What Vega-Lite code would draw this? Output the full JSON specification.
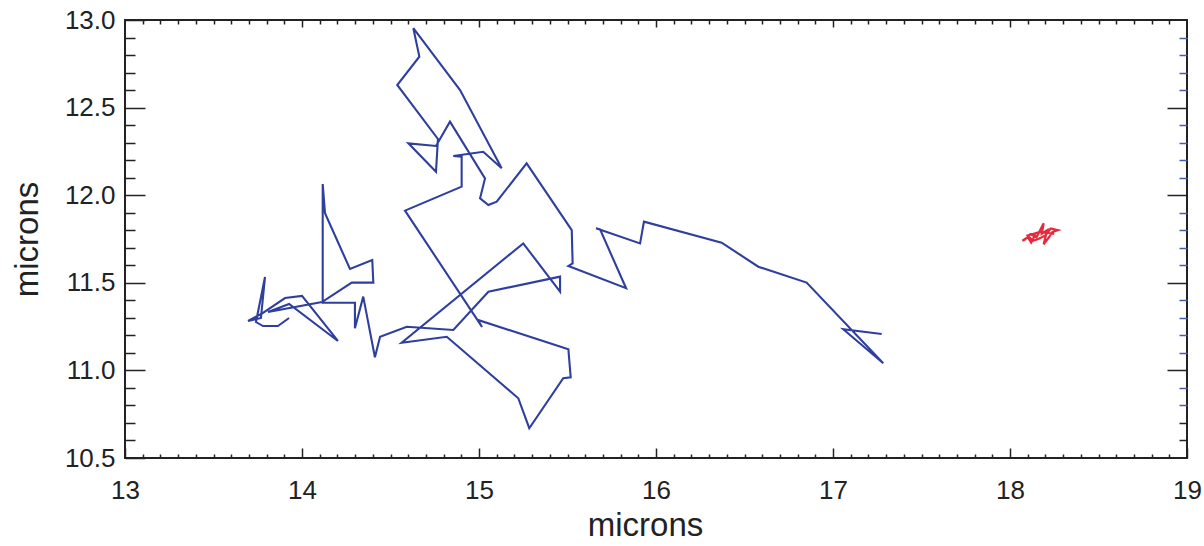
{
  "$schema": "https://vega.github.io/schema/vega-lite/v6.json",
  "width": 1062,
  "height": 438,
  "autosize": "none",
  "padding": {"left": 125, "top": 20, "right": 17, "bottom": 88},
  "background": "white",
  "config": {
    "view": {"stroke": "#222222", "strokeWidth": 2},
    "axis": {
      "labelFont": "Liberation Sans",
      "titleFont": "Liberation Sans",
      "labelColor": "#222222",
      "titleColor": "#222222",
      "tickColor": "#222222",
      "tickWidth": 1.5,
      "grid": false,
      "domain": false,
      "titleFontWeight": "normal",
      "labelFlush": false,
      "labelOverlap": false
    }
  },
  "datasets": {
    "track": [
      {"s": 1, "x": 13.927, "y": 11.299},
      {"s": 2, "x": 13.864, "y": 11.253},
      {"s": 3, "x": 13.780, "y": 11.253},
      {"s": 4, "x": 13.740, "y": 11.276},
      {"s": 5, "x": 13.791, "y": 11.533},
      {"s": 6, "x": 13.768, "y": 11.299},
      {"s": 7, "x": 13.695, "y": 11.282},
      {"s": 8, "x": 13.780, "y": 11.328},
      {"s": 9, "x": 13.904, "y": 11.413},
      {"s": 10, "x": 14.000, "y": 11.425},
      {"s": 11, "x": 14.203, "y": 11.168},
      {"s": 12, "x": 13.927, "y": 11.379},
      {"s": 13, "x": 13.808, "y": 11.333},
      {"s": 14, "x": 14.113, "y": 11.390},
      {"s": 15, "x": 14.281, "y": 11.501},
      {"s": 16, "x": 14.403, "y": 11.501},
      {"s": 17, "x": 14.397, "y": 11.630},
      {"s": 18, "x": 14.271, "y": 11.579},
      {"s": 19, "x": 14.130, "y": 11.897},
      {"s": 20, "x": 14.117, "y": 12.064},
      {"s": 21, "x": 14.117, "y": 11.386},
      {"s": 22, "x": 14.299, "y": 11.386},
      {"s": 23, "x": 14.299, "y": 11.240},
      {"s": 24, "x": 14.346, "y": 11.421},
      {"s": 25, "x": 14.412, "y": 11.075},
      {"s": 26, "x": 14.441, "y": 11.192},
      {"s": 27, "x": 14.592, "y": 11.249},
      {"s": 28, "x": 14.855, "y": 11.231},
      {"s": 29, "x": 15.053, "y": 11.449},
      {"s": 30, "x": 15.458, "y": 11.535},
      {"s": 31, "x": 15.458, "y": 11.449},
      {"s": 32, "x": 15.250, "y": 11.725},
      {"s": 33, "x": 14.563, "y": 11.158},
      {"s": 34, "x": 14.818, "y": 11.192},
      {"s": 35, "x": 15.222, "y": 10.841},
      {"s": 36, "x": 15.284, "y": 10.670},
      {"s": 37, "x": 15.476, "y": 10.955},
      {"s": 38, "x": 15.518, "y": 10.961},
      {"s": 39, "x": 15.505, "y": 11.120},
      {"s": 40, "x": 14.994, "y": 11.288},
      {"s": 41, "x": 15.017, "y": 11.248},
      {"s": 42, "x": 14.582, "y": 11.912},
      {"s": 43, "x": 14.902, "y": 12.049},
      {"s": 44, "x": 14.902, "y": 12.220},
      {"s": 45, "x": 14.855, "y": 12.224},
      {"s": 46, "x": 15.024, "y": 12.248},
      {"s": 47, "x": 15.128, "y": 12.154},
      {"s": 48, "x": 14.893, "y": 12.600},
      {"s": 49, "x": 14.629, "y": 12.953},
      {"s": 50, "x": 14.663, "y": 12.791},
      {"s": 51, "x": 14.538, "y": 12.629},
      {"s": 52, "x": 14.768, "y": 12.321},
      {"s": 53, "x": 14.757, "y": 12.134},
      {"s": 54, "x": 14.601, "y": 12.296},
      {"s": 55, "x": 14.757, "y": 12.281},
      {"s": 56, "x": 14.836, "y": 12.420},
      {"s": 57, "x": 15.034, "y": 12.096},
      {"s": 58, "x": 15.006, "y": 11.982},
      {"s": 59, "x": 15.053, "y": 11.944},
      {"s": 60, "x": 15.100, "y": 11.963},
      {"s": 61, "x": 15.269, "y": 12.182},
      {"s": 62, "x": 15.524, "y": 11.801},
      {"s": 63, "x": 15.529, "y": 11.611},
      {"s": 64, "x": 15.505, "y": 11.596},
      {"s": 65, "x": 15.831, "y": 11.469},
      {"s": 66, "x": 15.684, "y": 11.805},
      {"s": 67, "x": 15.661, "y": 11.811},
      {"s": 68, "x": 15.910, "y": 11.725},
      {"s": 69, "x": 15.932, "y": 11.849},
      {"s": 70, "x": 16.371, "y": 11.729},
      {"s": 71, "x": 16.578, "y": 11.592},
      {"s": 72, "x": 16.851, "y": 11.501},
      {"s": 73, "x": 17.284, "y": 11.041},
      {"s": 74, "x": 17.058, "y": 11.235},
      {"s": 75, "x": 17.275, "y": 11.208}
    ],
    "red": [
      {"s": 1, "x": 18.09, "y": 11.75},
      {"s": 2, "x": 18.07, "y": 11.74},
      {"s": 3, "x": 18.10, "y": 11.76},
      {"s": 4, "x": 18.12, "y": 11.73},
      {"s": 5, "x": 18.14, "y": 11.77},
      {"s": 6, "x": 18.11, "y": 11.78},
      {"s": 7, "x": 18.15, "y": 11.76},
      {"s": 8, "x": 18.17, "y": 11.80},
      {"s": 9, "x": 18.19, "y": 11.84},
      {"s": 10, "x": 18.18, "y": 11.78},
      {"s": 11, "x": 18.21, "y": 11.80},
      {"s": 12, "x": 18.19, "y": 11.72},
      {"s": 13, "x": 18.22, "y": 11.76},
      {"s": 14, "x": 18.24, "y": 11.79},
      {"s": 15, "x": 18.27, "y": 11.80},
      {"s": 16, "x": 18.23, "y": 11.81},
      {"s": 17, "x": 18.20, "y": 11.77},
      {"s": 18, "x": 18.16, "y": 11.75},
      {"s": 19, "x": 18.13, "y": 11.74},
      {"s": 20, "x": 18.10, "y": 11.77},
      {"s": 21, "x": 18.17, "y": 11.79},
      {"s": 22, "x": 18.25, "y": 11.78}
    ]
  },
  "resolve": {"axis": {"x": "independent", "y": "independent"}},
  "layer": [
    {
      "data": {"name": "track"},
      "mark": {"type": "line", "color": "#2e3f9e", "strokeWidth": 2.1, "clip": true},
      "encoding": {
        "order": {"field": "s", "type": "quantitative"},
        "x": {
          "field": "x", "type": "quantitative",
          "scale": {"domain": [13, 19], "nice": false, "zero": false},
          "axis": {
            "orient": "bottom", "values": [13, 14, 15, 16, 17, 18, 19],
            "format": "d", "tickSize": 10, "offset": -10,
            "labelFontSize": 26, "labelPadding": 19,
            "title": "microns", "titleFontSize": 33, "titlePadding": 6,
            "titleX": 520
          }
        },
        "y": {
          "field": "y", "type": "quantitative",
          "scale": {"domain": [10.5, 13], "nice": false, "zero": false},
          "axis": {
            "orient": "left", "values": [10.5, 11, 11.5, 12, 12.5, 13],
            "format": ".1f", "tickSize": 20, "offset": -20,
            "labelFontSize": 26, "labelPadding": 10,
            "title": "microns", "titleFontSize": 33, "titlePadding": 20
          }
        }
      }
    },
    {
      "data": {"name": "red"},
      "mark": {"type": "line", "color": "#e8293b", "strokeWidth": 2.2},
      "encoding": {
        "order": {"field": "s", "type": "quantitative"},
        "x": {
          "field": "x", "type": "quantitative",
          "axis": {
            "orient": "bottom",
            "values": [13.1,13.2,13.3,13.4,13.5,13.6,13.7,13.8,13.9,14.1,14.2,14.3,14.4,14.5,14.6,14.7,14.8,14.9,15.1,15.2,15.3,15.4,15.5,15.6,15.7,15.8,15.9,16.1,16.2,16.3,16.4,16.5,16.6,16.7,16.8,16.9,17.1,17.2,17.3,17.4,17.5,17.6,17.7,17.8,17.9,18.1,18.2,18.3,18.4,18.5,18.6,18.7,18.8,18.9],
            "tickSize": 4, "offset": -4, "labels": false, "title": null
          }
        },
        "y": {
          "field": "y", "type": "quantitative",
          "axis": {
            "orient": "left",
            "values": [10.6,10.7,10.8,10.9,11.1,11.2,11.3,11.4,11.6,11.7,11.8,11.9,12.1,12.2,12.3,12.4,12.6,12.7,12.8,12.9],
            "tickSize": 10, "offset": -10, "labels": false, "title": null
          }
        }
      }
    },
    {
      "data": {"name": "red"},
      "mark": {"type": "line", "strokeOpacity": 0},
      "encoding": {
        "order": {"field": "s", "type": "quantitative"},
        "x": {
          "field": "x", "type": "quantitative",
          "axis": {
            "orient": "top", "values": [14, 15, 16, 17, 18],
            "tickSize": 7, "offset": -7, "labels": false, "title": null
          }
        },
        "y": {
          "field": "y", "type": "quantitative",
          "axis": {
            "orient": "right", "values": [11, 11.5, 12, 12.5],
            "tickSize": 20, "offset": -20, "labels": false, "title": null
          }
        }
      }
    },
    {
      "data": {"name": "red"},
      "mark": {"type": "line", "strokeOpacity": 0},
      "encoding": {
        "order": {"field": "s", "type": "quantitative"},
        "x": {
          "field": "x", "type": "quantitative",
          "axis": {
            "orient": "top",
            "values": [13.1,13.2,13.3,13.4,13.5,13.6,13.7,13.8,13.9,14.1,14.2,14.3,14.4,14.5,14.6,14.7,14.8,14.9,15.1,15.2,15.3,15.4,15.5,15.6,15.7,15.8,15.9,16.1,16.2,16.3,16.4,16.5,16.6,16.7,16.8,16.9,17.1,17.2,17.3,17.4,17.5,17.6,17.7,17.8,17.9,18.1,18.2,18.3,18.4,18.5,18.6,18.7,18.8,18.9],
            "tickSize": 4, "offset": -4, "labels": false, "title": null
          }
        },
        "y": {
          "field": "y", "type": "quantitative",
          "axis": {
            "orient": "right",
            "values": [10.6,10.7,10.8,10.9,11.1,11.2,11.3,11.4,11.6,11.7,11.8,11.9,12.1,12.2,12.3,12.4,12.6,12.7,12.8,12.9],
            "tickSize": 8, "offset": -8, "labels": false, "title": null,
            "tickColor": {"condition": {"test": "datum.value < 10.75", "value": "#222222"}, "value": "#4a5aa8"}
          }
        }
      }
    }
  ]
}
